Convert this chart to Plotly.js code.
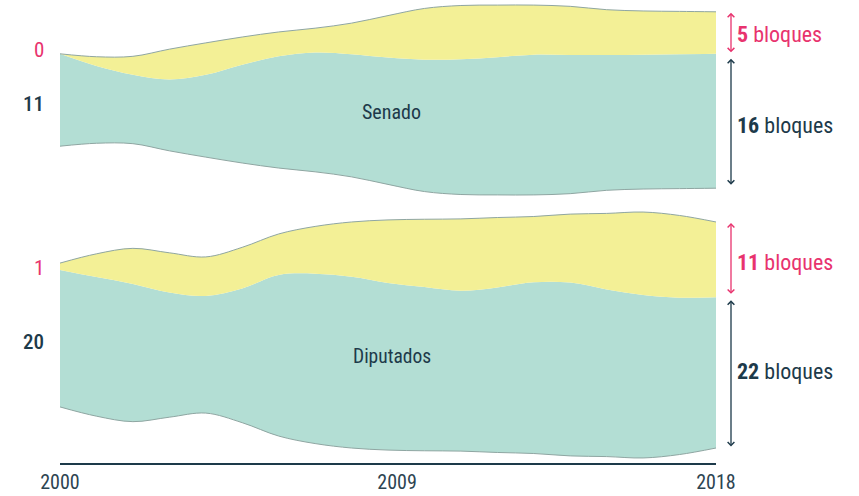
<!DOCTYPE html>
<html>
<head>
<meta charset="utf-8">
<script src="https://cdn.plot.ly/plotly-3.0.1.min.js"></script>
<style>
  html, body { margin: 0; padding: 0; background: #ffffff; }
  #chart { width: 859px; height: 496px; }
</style>
</head>
<body>
<div id="chart"></div>
<script>
// ---- data ----
const years = [2000, 2001, 2002, 2003, 2004, 2005, 2006, 2007, 2008, 2009,
               2010, 2011, 2012, 2013, 2014, 2015, 2016, 2017, 2018];

// Senado: blocks (teal = dark group, yellow = pink group)
const senadoTeal   = [11, 9.2, 8.2, 8.5, 9.8, 11.7, 13.3, 14.2, 14.6, 15.1,
                      15.7, 16.1, 16.4, 16.7, 16.5, 16.1, 16.0, 16.0, 16];
const senadoYellow = [0, 1.1, 2.2, 3.6, 3.8, 3.3, 2.9, 2.9, 3.7, 5.0,
                      6.1, 6.4, 6.2, 5.9, 5.8, 5.4, 5.2, 5.1, 5];

// Diputados
const diputadosTeal   = [20, 20.3, 20.1, 18.2, 17.1, 19.6, 23.5, 24.8, 25.0, 24.4,
                         23.9, 23.4, 24.1, 25.0, 25.3, 24.4, 23.8, 22.9, 22];
const diputadosYellow = [1, 3.4, 5.2, 5.8, 5.7, 6.0, 6.0, 6.9, 8.0, 9.2,
                         9.9, 10.5, 10.2, 9.6, 10.0, 11.1, 12.1, 12.0, 11];

const panelNames = ['Senado', 'Diputados'];
const tickVals = [2000, 2009.25, 2018];
const tickText = ['2000', '2009', '2018'];
const unitWord = 'bloques';

// ---- styles ----
const FONT = '"Roboto Condensed", "DejaVu Sans Condensed", "Liberation Sans Narrow", Roboto, sans-serif';
const TEAL = '#b3ded4';
const YELLOW = '#f3f096';
const EDGE = '#8fa6a2';
const PINK = '#e8336e';
const DARK = '#1d3a4a';
const TICK = '#2d4451';

// ---- geometry (px per block, panel centres) ----
const plotH = 463;         // plot area height (margin b = 33)
const split = 205;         // px where the two panels meet
const kS = 8.4, cS = 100;  // senado scale and centre line
const kD = 6.85, cD = 335; // diputados scale and centre line

function stream(teal, yellow) {
  const base = teal.map((t, i) => -(t + yellow[i]) / 2); // silhouette offset
  const mid = base.map((b, i) => b + teal[i]);
  const top = mid.map((m, i) => m + yellow[i]);
  return { base, mid, top };
}
const S = stream(senadoTeal, senadoYellow);
const D = stream(diputadosTeal, diputadosYellow);

function traces(st, yax) {
  const common = { x: years, xaxis: 'x', yaxis: yax, mode: 'lines', hoverinfo: 'skip', showlegend: false };
  return [
    Object.assign({}, common, { y: st.base, line: { shape: 'spline', smoothing: 1, color: EDGE, width: 1 } }),
    Object.assign({}, common, { y: st.mid, fill: 'tonexty', fillcolor: TEAL,
      line: { shape: 'spline', smoothing: 1, color: 'rgba(0,0,0,0)', width: 0 } }),
    Object.assign({}, common, { y: st.top, fill: 'tonexty', fillcolor: YELLOW,
      line: { shape: 'spline', smoothing: 1, color: EDGE, width: 1 } })
  ];
}

const data = traces(S, 'y').concat(traces(D, 'y2'));

const last = years.length - 1;
const lastYear = years[last];
const firstYear = years[0];

function arrow(yref, yTop, yBot, color, endOff, startOff) {
  return {
    x: lastYear, y: yTop, ax: lastYear, ay: yBot,
    xref: 'x', yref: yref, axref: 'x', ayref: yref,
    text: '', showarrow: true, arrowside: 'end+start',
    arrowhead: 4, startarrowhead: 4, arrowsize: 1, startarrowsize: 1,
    arrowwidth: 1.3, arrowcolor: color, standoff: endOff, startstandoff: startOff,
    xshift: 15
  };
}
function rightLabel(yref, yv, n, color, ys) {
  return {
    x: lastYear, y: yv, xref: 'x', yref: yref, xanchor: 'left', yanchor: 'middle',
    xshift: 19, yshift: ys, showarrow: false,
    text: '<b>' + n + '</b> ' + unitWord,
    font: { family: FONT, size: 22, color: color }
  };
}
function leftLabel(yref, yv, n, color, weight, ys) {
  return {
    x: 0, y: yv, xref: 'paper', yref: yref, xanchor: 'right', yanchor: 'middle',
    xshift: -14, yshift: ys, showarrow: false, text: String(n),
    font: { family: FONT, size: 21, color: color, weight: weight }
  };
}

const annotations = [
  // right arrows + labels
  arrow('y', S.top[last], S.mid[last], PINK, 1, 0),
  arrow('y', S.mid[last], S.base[last], DARK, 5, 2),
  arrow('y2', D.top[last], D.mid[last], PINK, 1, 2),
  arrow('y2', D.mid[last], D.base[last], DARK, 3, 0),
  rightLabel('y', (S.top[last] + S.mid[last]) / 2, senadoYellow[last], PINK, -2),
  rightLabel('y', (S.mid[last] + S.base[last]) / 2, senadoTeal[last], DARK, -4),
  rightLabel('y2', (D.top[last] + D.mid[last]) / 2, diputadosYellow[last], PINK, -3),
  rightLabel('y2', (D.mid[last] + D.base[last]) / 2, diputadosTeal[last], DARK, 1),
  // left start values
  leftLabel('y', S.top[0], senadoYellow[0], PINK, 400, 4),
  leftLabel('y', (S.mid[0] + S.base[0]) / 2, senadoTeal[0], DARK, 500, -4),
  leftLabel('y2', (D.top[0] + D.mid[0]) / 2, diputadosYellow[0], PINK, 400, -1),
  leftLabel('y2', (D.mid[0] + D.base[0]) / 2, diputadosTeal[0], DARK, 500, -4),
  // panel names
  { x: 2009.1, y: -1.45, xref: 'x', yref: 'y', showarrow: false, text: panelNames[0],
    font: { family: FONT, size: 20, color: DARK } },
  { x: 2009.1, y: -3.2, xref: 'x', yref: 'y2', showarrow: false, text: panelNames[1],
    font: { family: FONT, size: 19.5, color: DARK } }
];

const dom = (plotH - split) / plotH;
const layout = {
  width: 859, height: 496,
  margin: { l: 60, r: 143, t: 0, b: 33, pad: 0 },
  paper_bgcolor: '#ffffff', plot_bgcolor: '#ffffff',
  showlegend: false,
  xaxis: {
    range: [firstYear, lastYear], anchor: 'y2',
    showgrid: false, zeroline: false, showline: true,
    linecolor: DARK, linewidth: 1.5,
    tickvals: tickVals, ticktext: tickText, ticks: '',
    tickfont: { family: FONT, size: 20, color: TICK },
    fixedrange: true
  },
  yaxis: {
    domain: [dom, 1], range: [(cS - split) / kS, cS / kS],
    visible: false, fixedrange: true, anchor: 'x'
  },
  yaxis2: {
    domain: [0, dom], range: [(cD - plotH) / kD, (cD - split) / kD],
    visible: false, fixedrange: true, anchor: 'x'
  },
  annotations: annotations
};

Plotly.newPlot('chart', data, layout, { displayModeBar: false, staticPlot: true });
</script>
</body>
</html>
